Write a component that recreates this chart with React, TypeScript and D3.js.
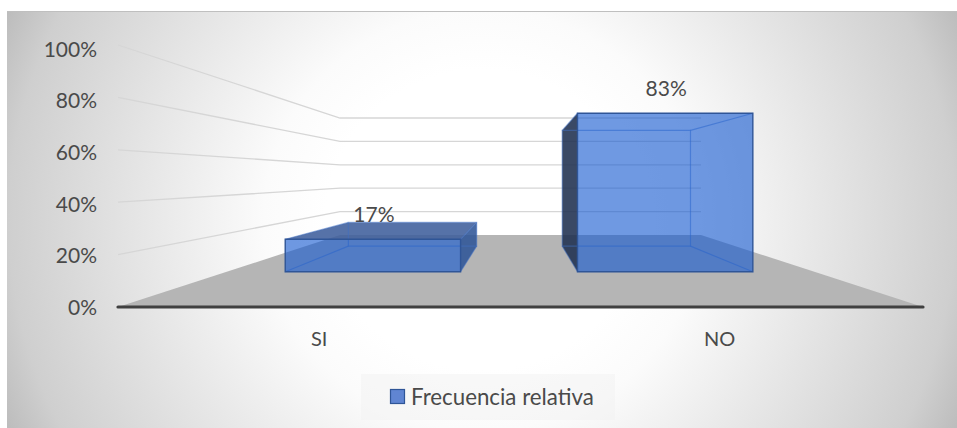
import React from "react";
import * as d3 from "d3";

const categories = ["SI", "NO"];
const values = [0.17, 0.83];
const yTicks = [0, 0.2, 0.4, 0.6, 0.8, 1];
const seriesName = "Frecuencia relativa";

const W = 957;
const H = 428;
const FONT = "Lato, 'Open Sans', sans-serif";

// floor / wall perspective: d = 0 front edge, d = 1 back wall
const leftX = d3.scaleLinear().domain([0, 1]).range([118, 340]);
const rightX = d3.scaleLinear().domain([0, 1]).range([923, 701]);
const baseY = d3.scaleLinear().domain([0, 1]).range([307, 235]);
const wallH = d3.scaleLinear().domain([0, 1]).range([262, 117]);
const tickY = d3.scaleLinear().domain([0, 1]).range([306.5, 48]);

type P = [number, number];
const project = (u: number, v: number, d: number): P => [
  leftX(d) + u * (rightX(d) - leftX(d)),
  baseY(d) - v * wallH(d),
];

const band = d3.scaleBand<string>().domain(categories).range([0, 0.995]).paddingInner(0.4).paddingOuter(0.2);
const BAR_FRONT = 0.49;
const BAR_BACK = 0.845;

const poly = (pts: P[]) => "M" + pts.map((p) => `${p[0]},${p[1]}`).join("L") + "Z";

const FRONT_FILL = "rgb(20,88,207)";
const EDGE = "#2f5597";

function Bar({ cat, value }: { cat: string; value: number }) {
  const u0 = band(cat)!;
  const u1 = u0 + band.bandwidth();
  const p = (u: number, v: number, d: number) => project(u, v, d);
  const FL = p(u0, 0, BAR_FRONT), FR = p(u1, 0, BAR_FRONT), BL = p(u0, 0, BAR_BACK), BR = p(u1, 0, BAR_BACK);
  const FTL = p(u0, value, BAR_FRONT), FTR = p(u1, value, BAR_FRONT), BTL = p(u0, value, BAR_BACK), BTR = p(u1, value, BAR_BACK);

  // faces wound clockwise when seen from outside the box
  const faces: { pts: P[]; fill: string; op: number }[] = [
    { pts: [FL, FR, BR, BL], fill: "#2f5597", op: 0.8 }, // bottom
    { pts: [BTL, FTL, FL, BL], fill: "#1f3050", op: 0.88 }, // left
    { pts: [FTR, BTR, BR, FR], fill: "#2f5597", op: 0.88 }, // right
    { pts: [BTL, BTR, FTR, FTL], fill: "#3f5f9c", op: 0.88 }, // top
  ];
  const inner = [
    [BTL, BTR, BR, BL],
    [BTL, FTL],
    [BTR, FTR],
    [BL, FL],
    [BR, FR],
  ] as P[][];
  return (
    <g>
      {faces.map((f, i) =>
        d3.polygonArea(f.pts) < 0 ? <path key={i} d={poly(f.pts)} fill={f.fill} fillOpacity={f.op} /> : null
      )}
      {inner.map((pts, i) => (
        <path
          key={i}
          d={pts.length > 2 ? poly(pts) : "M" + pts.map((q) => q.join(",")).join("L")}
          fill="none"
          stroke="#3f6fc4"
          strokeOpacity={0.5}
          strokeWidth={1.2}
        />
      ))}
      <path d={poly([FTL, FTR, FR, FL])} fill={FRONT_FILL} fillOpacity={0.61} stroke={EDGE} strokeWidth={1.4} />
    </g>
  );
}

export default function App() {
  return (
    <svg width={W} height={H} style={{ position: "absolute", left: 0, top: 0, background: "#fff" }} fontFamily={FONT}>
      <defs>
        <radialGradient
          id="bg"
          gradientUnits="userSpaceOnUse"
          cx={0}
          cy={0}
          r={1}
          gradientTransform="translate(482,220) scale(520,500)"
        >
          <stop offset="0%" stopColor="#ffffff" />
          <stop offset="30%" stopColor="#ffffff" />
          <stop offset="42%" stopColor="#fbfbfb" />
          <stop offset="91%" stopColor="#cfcfcf" />
          <stop offset="100%" stopColor="#bdbdbd" />
        </radialGradient>
      </defs>
      <rect x={7} y={11} width={W - 7} height={H - 11} fill="url(#bg)" />
      <line x1={7} x2={W} y1={11.5} y2={11.5} stroke="#bfbfbf" strokeWidth={1} />

      {yTicks.filter((t) => t > 0).map((t) => (
        <path
          key={t}
          d={"M" + [project(0, t, 0), project(0, t, 1), project(1, t, 1)].map((q) => q.join(",")).join("L")}
          fill="none"
          stroke="#d6d6d6"
          strokeWidth={1.3}
        />
      ))}

      <path d={poly([project(0, 0, 0), project(1, 0, 0), project(1, 0, 1), project(0, 0, 1)])} fill="#b5b5b5" />

      {categories.map((c, i) => (
        <Bar key={c} cat={c} value={values[i]} />
      ))}

      <line x1={118} x2={923} y1={307} y2={307} stroke="#404040" strokeWidth={3.2} strokeLinecap="round" />

      {yTicks.map((t) => (
        <text key={t} x={97} y={tickY(t)} textAnchor="end" dominantBaseline="central" fontSize={21} fill="#4a4a4a">
          {d3.format(".0%")(t)}
        </text>
      ))}

      {categories.map((c, i) => {
        const u = band(c)! + band.bandwidth() / 2;
        return (
          <g key={c}>
            <text x={project(u, 0, 0)[0] + 1} y={338} textAnchor="middle" dominantBaseline="central" fontSize={20} fill="#4a4a4a">
              {c}
            </text>
            <text
              x={project(u, values[i], BAR_FRONT)[0] + 1}
              y={project(u, values[i], BAR_FRONT)[1] - 26}
              textAnchor="middle"
              dominantBaseline="central"
              fontSize={21}
              fill="#4a4a4a"
            >
              {d3.format(".0%")(values[i])}
            </text>
          </g>
        );
      })}

      <rect x={361} y={374} width={254} height={46} fill="#f2f2f2" fillOpacity={0.5} />
      <rect x={390.5} y={389.5} width={14} height={14} fill="#6085d2" stroke={EDGE} strokeWidth={1.2} />
      <text x={411} y={396.5} dominantBaseline="central" fontSize={22.3} fill="#4a4a4a">
        {seriesName}
      </text>
    </svg>
  );
}
